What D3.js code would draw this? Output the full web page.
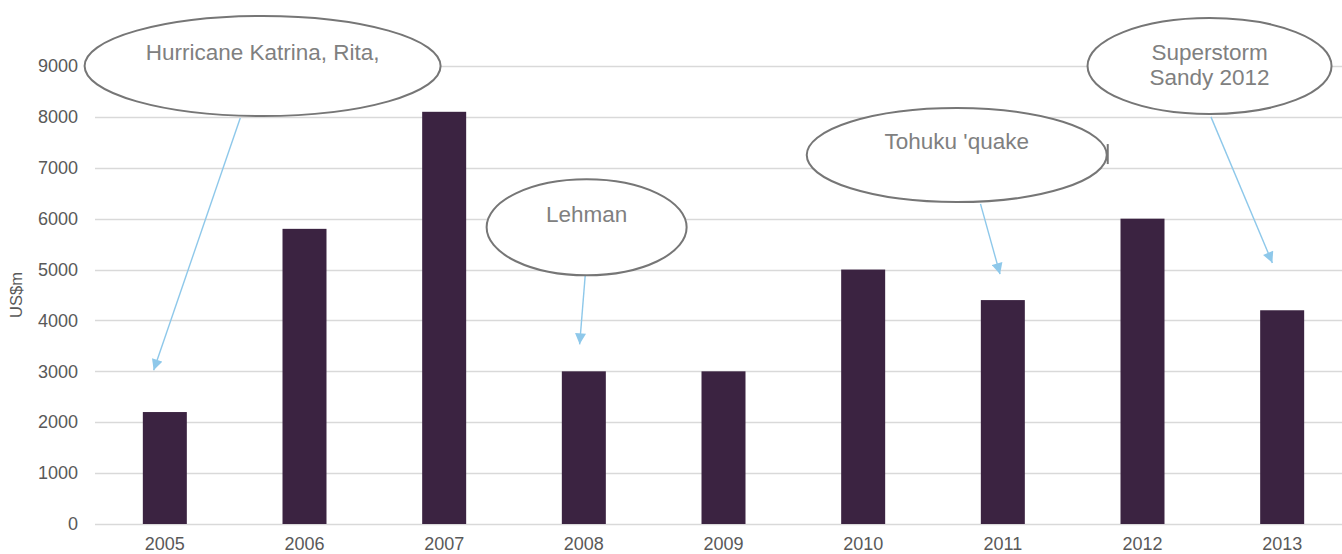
<!DOCTYPE html>
<html>
<head>
<meta charset="utf-8">
<script src="https://cdn.jsdelivr.net/npm/d3@7"></script>
<style>
  body { margin: 0; background: #fff; }
  svg { display: block; font-family: "Liberation Sans", Arial, sans-serif; }
</style>
</head>
<body>
<div id="chart"></div>
<script>
// values (US$m)
const years = ["2005", "2006", "2007", "2008", "2009", "2010", "2011", "2012", "2013"];
const values = [2200, 5800, 8100, 3000, 3000, 5000, 4400, 6000, 4200];
const yTicks = [0, 1000, 2000, 3000, 4000, 5000, 6000, 7000, 8000, 9000];

// callouts: centre, arrow start and arrow tip in (year, value) units
const calloutText = [["Hurricane Katrina, Rita,", ""], ["Lehman", ""], ["Tohuku 'quake", ""], ["Superstorm", "Sandy 2012"]];
const calloutCentre = [[2005.70, 9000], [2008.02, 5830], [2010.67, 7250], [2012.48, 9000]];
const calloutFrom = [[2005.54, 7980], [2008.01, 4890], [2010.84, 6290], [2012.49, 8000]];
const calloutTo = [[2004.92, 3020], [2007.97, 3530], [2010.98, 4910], [2012.93, 5130]];
const calloutSize = [[178, 50], [100, 48], [150, 47], [122, 48]];

const width = 1342;
const height = 554;
const marginLeft = 95;
const marginRight = -10;
const marginTop = 66;
const marginBottom = 30;

const svg = d3.select("#chart")
    .append("svg")
    .attr("width", width)
    .attr("height", height)
    .attr("viewBox", [0, 0, width, height]);

const x = d3.scaleBand(years, [marginLeft, width - marginRight]).paddingInner(0.685).paddingOuter(0.3425);
const y = d3.scaleLinear([0, 9000], [height - marginBottom, marginTop]);

// continuous year position for the callouts, built from the band scale
const xc = d3.scaleLinear([2005, 2013], [x("2005") + x.bandwidth() / 2, x("2013") + x.bandwidth() / 2]);

// grid lines
svg.append("g")
    .selectAll("line")
    .data(yTicks)
    .join("line")
    .attr("x1", marginLeft)
    .attr("x2", width)
    .attr("y1", d => Math.round(y(d)) + 0.5)
    .attr("y2", d => Math.round(y(d)) + 0.5)
    .attr("stroke", "#d9d9d9")
    .attr("stroke-width", 1.5);

// y axis labels
svg.append("g")
    .attr("transform", `translate(${marginLeft - 17},0)`)
    .call(d3.axisLeft(y).tickValues(yTicks).tickFormat(d3.format("d")).tickSize(0).tickPadding(0))
    .call(g => g.select(".domain").remove())
    .call(g => g.selectAll("text")
        .attr("fill", "#595959")
        .attr("font-size", 18)
        .attr("font-family", "Liberation Sans, Arial, sans-serif"));

svg.append("text")
    .attr("transform", `translate(22,${y(4500)}) rotate(-90)`)
    .attr("text-anchor", "middle")
    .attr("fill", "#595959")
    .attr("font-size", 16.5)
    .text("US$m");

// bars
svg.append("g")
    .selectAll("rect")
    .data(values)
    .join("rect")
    .attr("x", (d, i) => x(years[i]))
    .attr("y", d => y(d))
    .attr("width", x.bandwidth())
    .attr("height", d => y(0) - y(d))
    .attr("fill", "#3b2341");

// x axis labels
svg.append("g")
    .attr("transform", `translate(0,${y(0)})`)
    .call(d3.axisBottom(x).tickSize(0).tickPadding(13))
    .call(g => g.select(".domain").remove())
    .call(g => g.selectAll("text")
        .attr("fill", "#595959")
        .attr("font-size", 18)
        .attr("font-family", "Liberation Sans, Arial, sans-serif"));

// arrow head
svg.append("defs").append("marker")
    .attr("id", "head")
    .attr("viewBox", "0 0 10 10")
    .attr("refX", 10)
    .attr("refY", 5)
    .attr("markerWidth", 12)
    .attr("markerHeight", 11)
    .attr("markerUnits", "userSpaceOnUse")
    .attr("orient", "auto")
    .append("path")
    .attr("d", "M0,0L10,5L0,10Z")
    .attr("fill", "#8ec8ea");

const callouts = svg.append("g")
    .selectAll("g")
    .data(calloutText)
    .join("g");

callouts.append("line")
    .attr("x1", (d, i) => xc(calloutFrom[i][0]))
    .attr("y1", (d, i) => y(calloutFrom[i][1]))
    .attr("x2", (d, i) => xc(calloutTo[i][0]))
    .attr("y2", (d, i) => y(calloutTo[i][1]))
    .attr("stroke", "#8ec8ea")
    .attr("stroke-width", 1.4)
    .attr("marker-end", "url(#head)");

callouts.append("ellipse")
    .attr("cx", (d, i) => xc(calloutCentre[i][0]))
    .attr("cy", (d, i) => y(calloutCentre[i][1]))
    .attr("rx", (d, i) => calloutSize[i][0])
    .attr("ry", (d, i) => calloutSize[i][1])
    .attr("fill", "#fff")
    .attr("stroke", "#767676")
    .attr("stroke-width", 2);

callouts.each(function (lines, i) {
    const cx = xc(calloutCentre[i][0]);
    const cy = y(calloutCentre[i][1]);
    const lh = 25;
    d3.select(this).selectAll("text")
        .data(lines)
        .join("text")
        .attr("x", cx)
        .attr("y", (d, j) => cy + (j - (lines.length - 1) / 2) * lh - 1)
        .attr("dy", "0.35em")
        .attr("text-anchor", "middle")
        .attr("fill", "#808080")
        .attr("font-size", 22.5)
        .text(d => d);
});

// little stray stroke at the right of the Tohuku ellipse
svg.append("line")
    .attr("x1", xc(calloutCentre[2][0]) + calloutSize[2][0] + 1)
    .attr("x2", xc(calloutCentre[2][0]) + calloutSize[2][0] + 1)
    .attr("y1", y(calloutCentre[2][1]) - 11)
    .attr("y2", y(calloutCentre[2][1]) + 9)
    .attr("stroke", "#767676")
    .attr("stroke-width", 2);
</script>
</body>
</html>
